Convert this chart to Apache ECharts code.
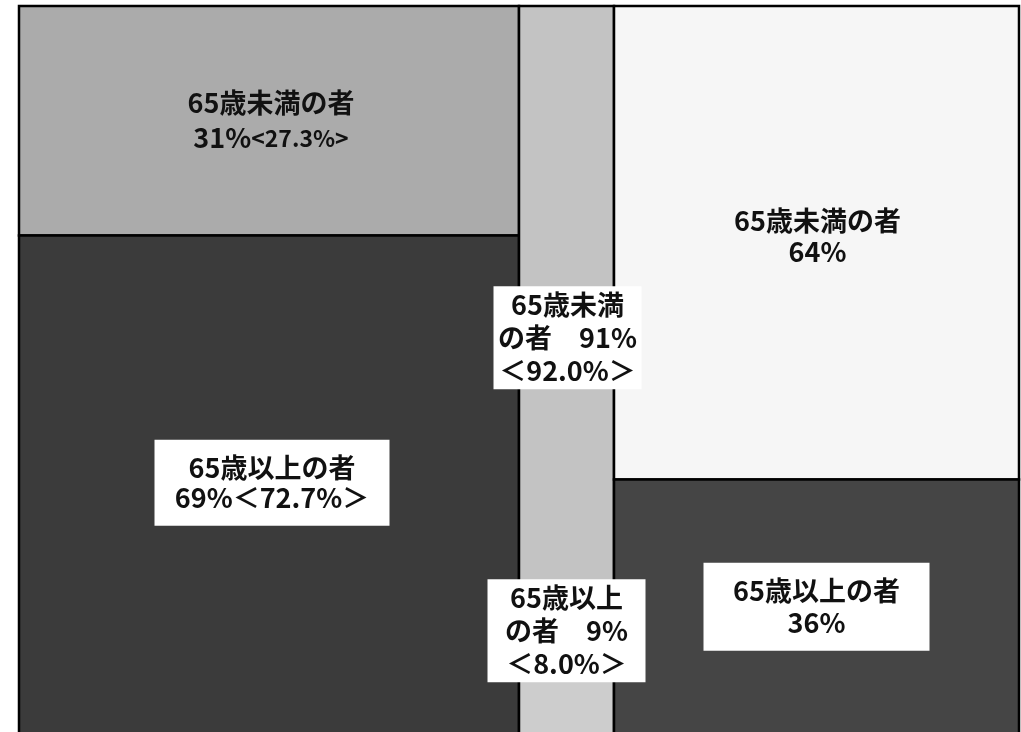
<!DOCTYPE html>
<html>
<head>
<meta charset="utf-8">
<script src="https://cdn.jsdelivr.net/npm/echarts@6/dist/echarts.min.js"></script>
<style>
html,body{margin:0;padding:0;background:#fff;}
#chart{width:1021px;height:732px;}
</style>
</head>
<body>
<div id="chart"></div>
<script>
// ---- data ----
const columns = ['群1', '群2', '群3'];
const colWidths = [50, 9.5, 40.5];          // share of total width (%)
const under65 = [31, 91, 64];               // 65歳未満の者 (%)
const over65 = [69, 9, 36];                 // 65歳以上の者 (%)
const under65Labels = [
  '65歳未満の者\n{a|31%}{b|<27.3%>}',
  '65歳未満\nの者　91%\n＜92.0%＞',
  '65歳未満の者\n64%'
];
const over65Labels = [
  '65歳以上の者\n69%＜72.7%＞',
  '65歳以上\nの者　9%\n＜8.0%＞',
  '65歳以上の者\n36%'
];

// ---- styles (kept separate from data) ----
const under65Fill = ['#ababab', '#c3c3c3', '#f6f6f6'];
const over65Fill = ['#3b3b3b', '#cdcdcd', '#454545'];
const under65Box = [
  {dx: 2, dy: 0, lh: 35, bg: null},
  {dx: 1, dy: -5, lh: 33, bg: '#fff', w: 136, pad: [2, 6]},
  {dx: 1, dy: -7, lh: 31, bg: null}
];
const over65Box = [
  {dx: 3, dy: -8, lh: 30, bg: '#fff', w: 215, pad: [13, 10]},
  {dx: 0, dy: -82, lh: 33, bg: '#fff', w: 146, pad: [2, 6]},
  {dx: 0, dy: -6, lh: 32, bg: '#fff', w: 206, pad: [12, 10]}
];

const FONT = "'Noto Sans CJK JP', 'Noto Sans', sans-serif";
const FS = 27;
const FW = 'bold';

// build segments: [col, x0, x1, y0, y1, kind]
const segData = [];
let cum = 0;
columns.forEach((c, i) => {
  const x0 = cum, x1 = cum + colWidths[i];
  segData.push([i, x0, x1, over65[i], over65[i] + under65[i], 0]);
  segData.push([i, x0, x1, 0, over65[i], 1]);
  cum = x1;
});

function renderItem(params, api) {
  const i = api.value(0);
  const kind = api.value(5);
  const p0 = api.coord([api.value(1), api.value(4)]);
  const p1 = api.coord([api.value(2), api.value(3)]);
  const fill = kind === 0 ? under65Fill[i] : over65Fill[i];
  const box = kind === 0 ? under65Box[i] : over65Box[i];
  const label = kind === 0 ? under65Labels[i] : over65Labels[i];
  const cx = (p0[0] + p1[0]) / 2 + box.dx;
  const cy = (p0[1] + p1[1]) / 2 + box.dy;
  const textStyle = {
    text: label,
    x: cx, y: cy,
    align: 'center', verticalAlign: 'middle',
    fontFamily: FONT, fontSize: FS, fontWeight: FW, lineHeight: box.lh,
    fill: '#111',
    rich: {
      a: {fontFamily: FONT, fontSize: FS, fontWeight: FW, lineHeight: box.lh, fill: '#111'},
      b: {fontFamily: FONT, fontSize: 23, fontWeight: FW, lineHeight: box.lh, fill: '#111'}
    }
  };
  if (box.bg) {
    textStyle.backgroundColor = box.bg;
    textStyle.padding = box.pad;
    textStyle.width = box.w;
  }
  return {
    type: 'group',
    children: [
      {
        type: 'rect',
        shape: {x: p0[0], y: p0[1], width: p1[0] - p0[0], height: p1[1] - p0[1]},
        style: {fill: fill, stroke: '#000', lineWidth: 2.5}
      },
      {
        type: 'text',
        z2: 10,
        style: textStyle
      }
    ]
  };
}

const chart = echarts.init(document.getElementById('chart'), null, {renderer: 'canvas'});
chart.setOption({
  backgroundColor: '#fff',
  animation: false,
  grid: {left: 19, width: 1000, top: 6, height: 740, outerBoundsMode: 'none', containLabel: false},
  xAxis: {type: 'value', min: 0, max: 100, show: false},
  yAxis: {type: 'value', min: 0, max: 100, show: false},
  series: [{
    type: 'custom',
    renderItem: renderItem,
    data: segData,
    encode: {x: [1, 2], y: [3, 4]},
    clip: false
  }]
});
</script>
</body>
</html>
